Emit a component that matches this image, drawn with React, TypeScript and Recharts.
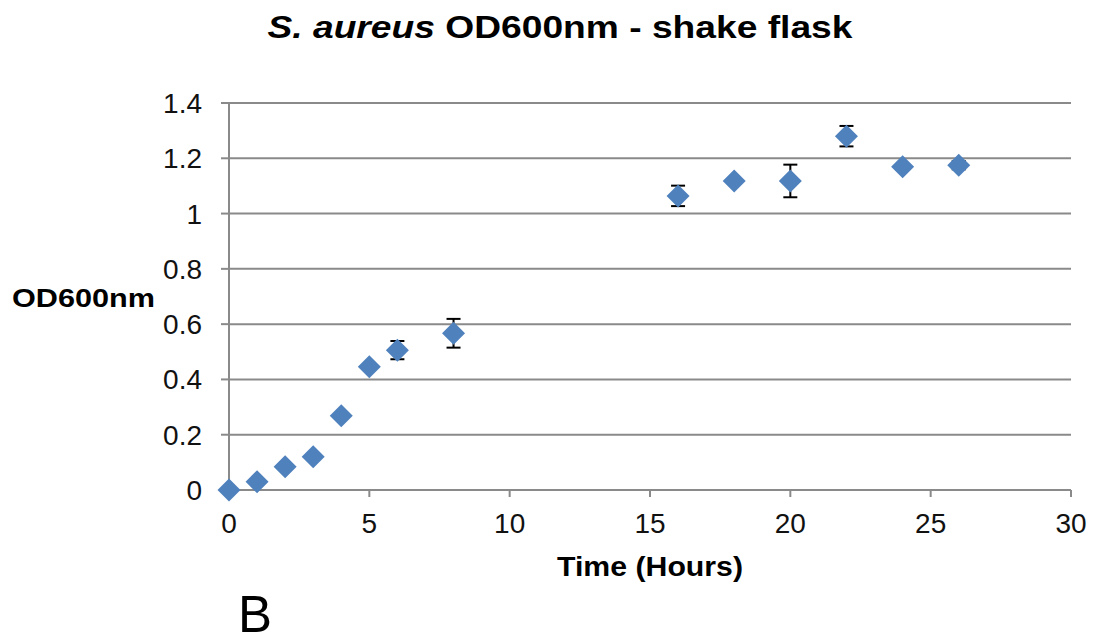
import { ScatterChart, Scatter, XAxis, YAxis, CartesianGrid, ErrorBar, Label } from "recharts";

// Sampling times (hours) and mean OD600 readings
const hours = [0, 1, 2, 3, 4, 5, 6, 8, 16, 18, 20, 22, 24, 26];
const od600 = [0, 0.03, 0.084, 0.12, 0.269, 0.446, 0.506, 0.567, 1.064, 1.118, 1.118, 1.28, 1.169, 1.175];
const odError = [0, 0, 0, 0, 0, 0, 0.033, 0.052, 0.037, 0, 0.059, 0.037, 0.01, 0.015];

const xTicks = [0, 5, 10, 15, 20, 25, 30];
const yTicks = [0, 0.2, 0.4, 0.6, 0.8, 1, 1.2, 1.4];

const data = hours.map((h, i) => ({ time: h, od: od600[i], err: odError[i] }));

const FONT = '"Liberation Sans", Arial, sans-serif';
const BLUE = "#4F81BD";
const GRID = "#8a8a8a";

// Excel-style diamond marker
const Diamond = (props: any) => {
  const { cx, cy } = props;
  if (cx == null || cy == null) return null;
  const r = 11.5;
  return (
    <polygon
      points={`${cx},${cy - r} ${cx + r},${cy} ${cx},${cy + r} ${cx - r},${cy}`}
      fill={BLUE}
    />
  );
};

// the source figure's text is a bit wider than Arial, so stretch it with textLength
const XTitle = (props: any) => {
  const { viewBox } = props;
  if (!viewBox) return null;
  const cx = viewBox.x + viewBox.width / 2;
  return (
    <text
      x={cx}
      y={576}
      textAnchor="middle"
      fontFamily={FONT}
      fontWeight="bold"
      fontSize={28}
      fill="#000"
      textLength={186}
      lengthAdjust="spacingAndGlyphs"
    >
      Time (Hours)
    </text>
  );
};

const YTitle = () => (
  <text
    x={12}
    y={307}
    fontFamily={FONT}
    fontWeight="bold"
    fontSize={25}
    fill="#000"
    textLength={143}
    lengthAdjust="spacingAndGlyphs"
  >
    OD600nm
  </text>
);

export default function App() {
  return (
    <div style={{ position: "absolute", left: 0, top: 0, width: 1101, height: 642, background: "#fff" }}>
      <ScatterChart width={1101} height={642} margin={{ top: 103, right: 30, bottom: 62, left: 0 }}>
        <CartesianGrid horizontal vertical={false} stroke={GRID} strokeWidth={2} />
        <XAxis
          type="number"
          dataKey="time"
          domain={[0, 30]}
          ticks={xTicks}
          height={90}
          stroke={GRID}
          strokeWidth={2}
          tickSize={7}
          tickMargin={16}
          tick={{ fill: "#111", fontSize: 28, fontFamily: FONT }}
        >
          <Label content={<XTitle />} />
        </XAxis>
        <YAxis
          type="number"
          dataKey="od"
          domain={[0, 1.4]}
          ticks={yTicks}
          width={229}
          stroke={GRID}
          strokeWidth={2}
          tickSize={8}
          tickMargin={19}
          tick={{ fill: "#111", fontSize: 28, fontFamily: FONT }}
        >
          <Label content={<YTitle />} />
        </YAxis>
        <Scatter data={data} dataKey="od" shape={Diamond} isAnimationActive={false}>
          <ErrorBar dataKey="err" direction="y" width={7} stroke="#000" strokeWidth={2} />
        </Scatter>
      </ScatterChart>
      <svg
        width={1101}
        height={642}
        style={{ position: "absolute", left: 0, top: 0, pointerEvents: "none" }}
      >
        <text
          x={560}
          y={38}
          textAnchor="middle"
          fontFamily={FONT}
          fontWeight="bold"
          fontSize={31}
          fill="#000"
          textLength={585}
          lengthAdjust="spacingAndGlyphs"
        >
          <tspan fontStyle="italic">S. aureus</tspan> OD600nm - shake flask
        </text>
        <text
          x={238}
          y={632}
          fontFamily={FONT}
          fontSize={52}
          fill="#000"
          textLength={34}
          lengthAdjust="spacingAndGlyphs"
        >
          B
        </text>
      </svg>
    </div>
  );
}
